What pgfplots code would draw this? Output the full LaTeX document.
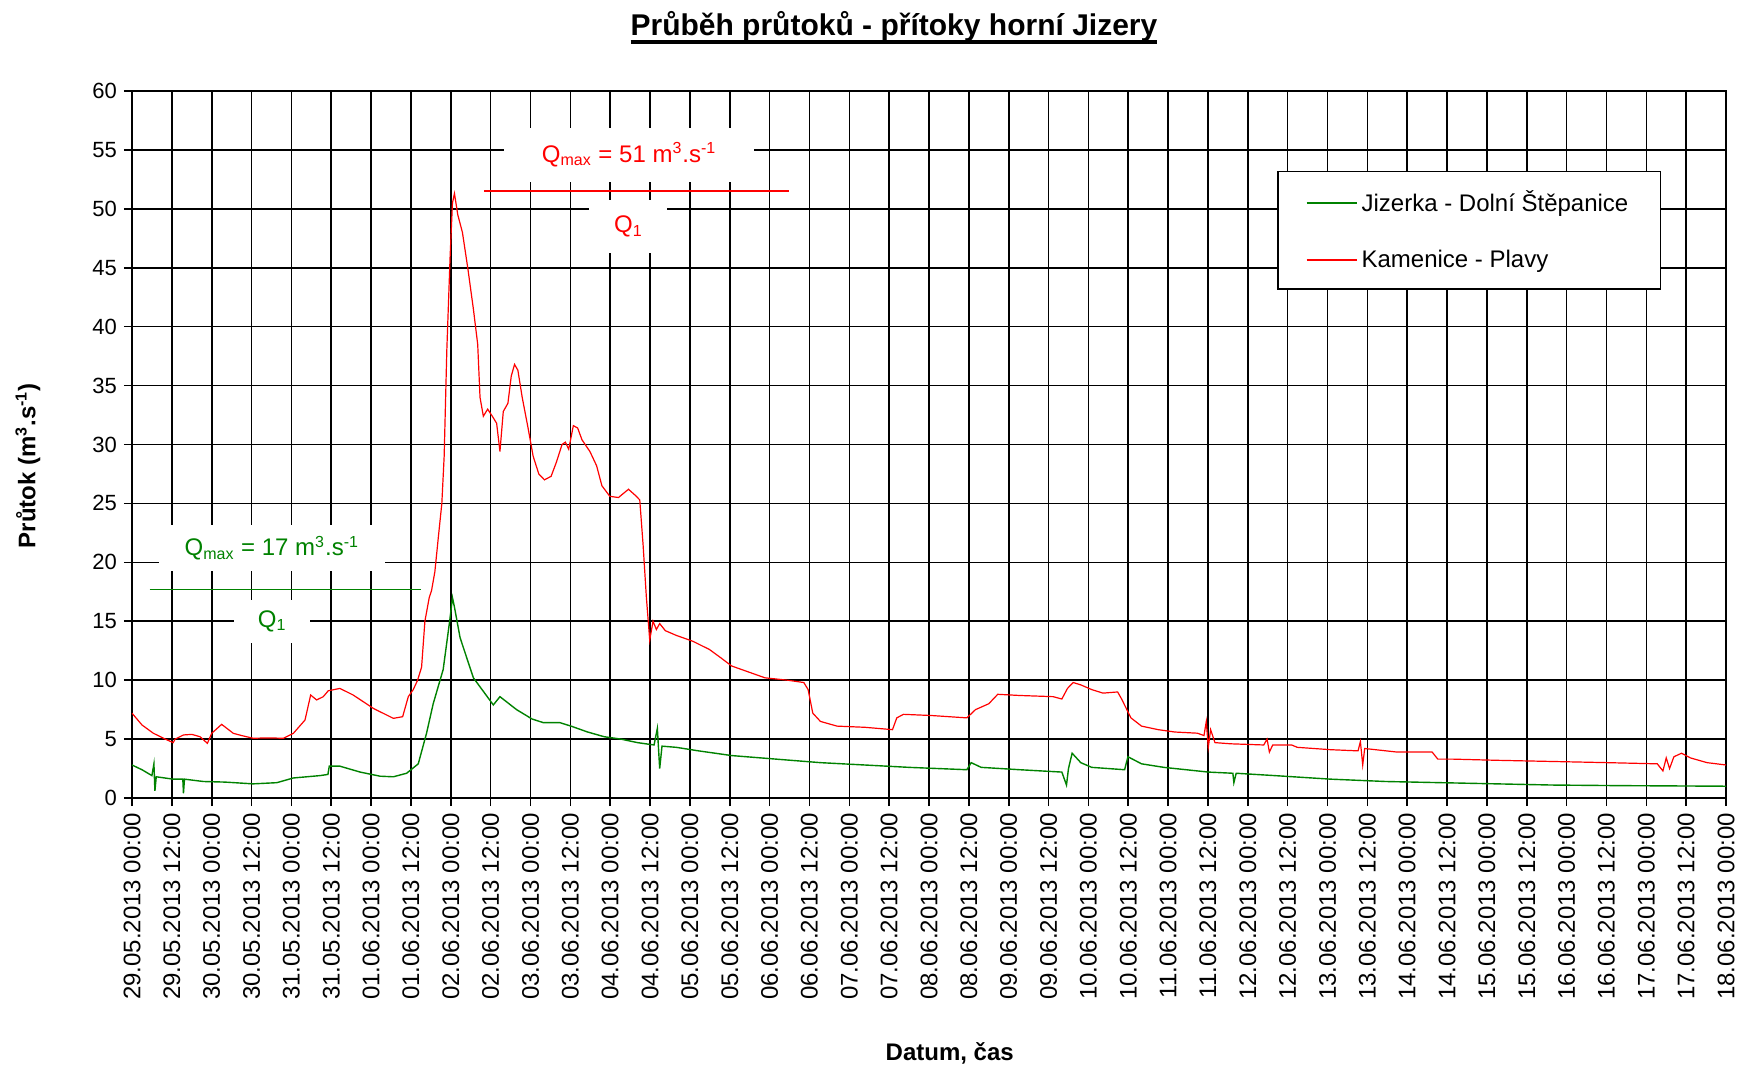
\documentclass[border=0pt]{standalone}
\usepackage{fontspec}
\setmainfont{Liberation Sans}
\usepackage{pgfplots}
\pgfplotsset{compat=1.18}
\usepackage{pgfplotstable}
\definecolor{qred}{RGB}{255,0,0}
\definecolor{qgreen}{RGB}{0,130,0}
\newcommand{\thickul}[1]{\setbox0=\hbox{#1}\rlap{\vrule height -2pt depth 3.9pt width \wd0}\box0}

\pgfplotstableread{
h v
0 7.2
3 6.2
6.4 5.5
10 5.0
12.4 4.7
13 5.0
15.5 5.35
18 5.4
20.5 5.2
22.7 4.64
24 5.49
27 6.25
30.5 5.49
33 5.3
36.5 5.07
41 5.1
45.6 5.07
48.6 5.49
52.1 6.62
53.8 8.74
55.6 8.32
57.6 8.6
59.1 9.1
62.6 9.3
66.6 8.74
72.7 7.6
78.7 6.76
81.5 6.9
83.2 8.6
84.7 9.2
86 10
87.2 11.1
88.2 15.0
89.5 17.0
90.2 17.6
91.2 19.2
92.2 22
93.3 25
94 29
94.8 38
95.8 46
96.5 50.5
97.1 51.3
98.1 49.5
99.5 48
101.1 45
102.8 41.5
104.1 38.5
104.8 34
105.8 32.4
107.1 33.0
108.5 32.4
109.8 31.8
110.8 29.4
111.8 32.8
113.2 33.5
114.2 35.8
115.2 36.8
116.2 36.3
117.5 34.0
119.2 31.5
120.8 29.0
122.5 27.5
124.2 27.0
126.2 27.3
127.8 28.5
129.5 30.0
130.5 30.2
131.5 29.6
132.9 31.6
134.2 31.4
135.5 30.4
137.9 29.4
139.9 28.2
141.5 26.5
143.9 25.6
146.5 25.5
148.2 25.9
149.5 26.2
151.5 25.7
152.9 25.3
153.9 21.5
154.9 17.0
155.9 13.4
156.9 15.0
157.9 14.3
158.9 14.8
160.6 14.2
163.9 13.8
168.9 13.3
173.9 12.6
177.3 11.9
180.6 11.2
184.6 10.8
190.6 10.2
197.3 10.0
202.3 9.8
203.6 9.2
205 7.2
207.3 6.5
212.3 6.1
220.7 6.0
229 5.8
230.3 6.8
232.3 7.1
240.7 7.0
251.4 6.8
254 7.5
258 8.0
260.7 8.8
267.3 8.7
277.4 8.6
280 8.4
281.7 9.3
283.4 9.8
285.7 9.6
289 9.2
292.4 8.9
296.8 9.0
298 8.4
300.8 6.8
304 6.1
309 5.8
314 5.6
320.8 5.5
322.8 5.3
323.5 6.5
324.1 4.3
324.8 5.8
326.1 4.7
330.8 4.6
340.8 4.5
341.8 5.0
342.5 3.9
343.5 4.5
349.2 4.5
350.9 4.3
360.9 4.1
369.2 4.0
369.9 4.8
370.6 2.8
371.2 4.2
380.9 3.9
391.5 3.9
393.2 3.3
397.6 3.3
410.9 3.2
427.6 3.1
444.3 3.0
459.3 2.9
461 2.3
462 3.4
463 2.5
464.3 3.5
466.6 3.8
469.3 3.4
474.3 3.0
480 2.8
}\kamenice

\pgfplotstableread{
h v
0 2.8
3 2.4
6 1.9
6.6 2.9
6.9 0.6
7.3 1.8
12.4 1.6
15.3 1.6
15.5 0.4
15.8 1.6
21.5 1.4
28 1.35
36.5 1.2
43.6 1.3
48.6 1.7
56.6 1.9
59 2.0
59.4 2.7
62.6 2.7
68.7 2.2
74.7 1.85
78.7 1.8
82.7 2.1
86.2 2.9
88.7 5.5
90.7 8.0
93.7 10.9
95.7 15.1
96.5 17.0
97.1 16.2
98.8 13.6
102.8 10.2
108.8 7.9
110.8 8.6
115.8 7.5
120.5 6.7
123.8 6.4
128.8 6.4
132.2 6.1
137.2 5.6
142.2 5.2
147.2 5.0
152.2 4.7
157.2 4.5
158.2 5.9
158.9 2.5
159.6 4.4
163.9 4.3
170.6 4.0
180.6 3.6
193.9 3.3
207.3 3.0
220.7 2.8
234 2.6
251.4 2.4
252.7 3.0
255.7 2.6
267.3 2.4
280 2.2
281.4 1.1
282 2.5
283.1 3.8
285.7 3.0
289 2.6
298.9 2.4
299.9 3.5
304 2.9
310.7 2.6
324.1 2.2
331.5 2.1
331.8 1.3
332.5 2.1
344.1 1.9
360.9 1.6
377.5 1.4
394.2 1.3
410.9 1.2
427.6 1.1
447.6 1.05
480 1.0
}\jizerka

\begin{document}
\begin{tikzpicture}
\useasboundingbox (-66pt,-135.5pt) rectangle (803pt,399pt);
\begin{axis}[
  at={(0pt,0pt)}, anchor=south west,
  scale only axis, width=797pt, height=353.5pt,
  xmin=0, xmax=480, ymin=0, ymax=60,
  xtick={0,12,...,480}, ytick={0,5,...,60},
  xticklabels={29.05.2013 00:00,29.05.2013 12:00,30.05.2013 00:00,30.05.2013 12:00,31.05.2013 00:00,31.05.2013 12:00,01.06.2013 00:00,01.06.2013 12:00,02.06.2013 00:00,02.06.2013 12:00,03.06.2013 00:00,03.06.2013 12:00,04.06.2013 00:00,04.06.2013 12:00,05.06.2013 00:00,05.06.2013 12:00,06.06.2013 00:00,06.06.2013 12:00,07.06.2013 00:00,07.06.2013 12:00,08.06.2013 00:00,08.06.2013 12:00,09.06.2013 00:00,09.06.2013 12:00,10.06.2013 00:00,10.06.2013 12:00,11.06.2013 00:00,11.06.2013 12:00,12.06.2013 00:00,12.06.2013 12:00,13.06.2013 00:00,13.06.2013 12:00,14.06.2013 00:00,14.06.2013 12:00,15.06.2013 00:00,15.06.2013 12:00,16.06.2013 00:00,16.06.2013 12:00,17.06.2013 00:00,17.06.2013 12:00,18.06.2013 00:00},
  grid=major, major grid style={black, line width=0.8pt},
  axis line style={black, line width=0.8pt},
  tick style={black, line width=0.8pt}, tick align=outside, major tick length=4pt,
  xtick pos=lower, ytick pos=left,
  xticklabel style={rotate=90, anchor=east, font=\fontsize{12}{14}\selectfont},
  yticklabel style={font=\fontsize{11}{13}\selectfont},
  /pgf/number format/assume math mode=true,
  title={\thickul{Průběh průtoků - přítoky horní Jizery}},
  title style={at={(0.478,1.061)}, anchor=base, yshift=0pt, font=\bfseries\fontsize{15}{18}\selectfont},
  ylabel={Průtok (m\textsuperscript{3}.s\textsuperscript{-1})},
  ylabel style={at={(-0.0653,0.47)}, anchor=center, font=\bfseries\fontsize{12}{14}\selectfont},
  xlabel={Datum, čas},
  xlabel style={at={(0.513,-0.3607)}, anchor=center, font=\bfseries\fontsize{12}{14}\selectfont},
  legend image code/.code={\draw[#1, line width=0.9pt] (0pt,0pt) -- (25pt,0pt);},
  legend style={at={(0.7183,0.887)}, anchor=north west, draw=black, line width=0.8pt, fill=white,
    font=\fontsize{12}{14}\selectfont, row sep=13.5pt, inner xsep=14pt, inner ysep=7.5pt},
  legend cell align=left,
]
\addplot[qgreen, line width=0.7pt] table[x=h, y=v] {\jizerka};
\addlegendentry{Jizerka - Dolní Štěpanice}
\addplot[qred, line width=0.6pt] table[x=h, y=v] {\kamenice};
\addlegendentry{Kamenice - Plavy}

\addplot[qred, line width=0.8pt, forget plot] coordinates {(106.1,51.5) (197.9,51.5)};
\addplot[qgreen, line width=0.8pt, forget plot] coordinates {(5.3,17.7) (87.1,17.7)};

\node[fill=white, text=qred, minimum width=125pt, minimum height=27pt, inner sep=0pt, font=\fontsize{12}{14}\selectfont]
  at (axis cs:149.7,54.6) {Q\textsubscript{max} = 51 m\textsuperscript{3}.s\textsuperscript{-1}};
\node[fill=white, text=qred, minimum width=39pt, minimum height=26.5pt, inner sep=0pt, font=\fontsize{12}{14}\selectfont]
  at (axis cs:149.5,48.5) {Q\textsubscript{1}};
\node[fill=white, text=qgreen, minimum width=113pt, minimum height=23pt, inner sep=0pt, font=\fontsize{12}{14}\selectfont]
  at (axis cs:42.1,21.2) {Q\textsubscript{max} = 17 m\textsuperscript{3}.s\textsuperscript{-1}};
\node[fill=white, text=qgreen, minimum width=38pt, minimum height=21.5pt, inner sep=0pt, font=\fontsize{12}{14}\selectfont]
  at (axis cs:42.2,15.0) {Q\textsubscript{1}};
\end{axis}
\end{tikzpicture}
\end{document}
